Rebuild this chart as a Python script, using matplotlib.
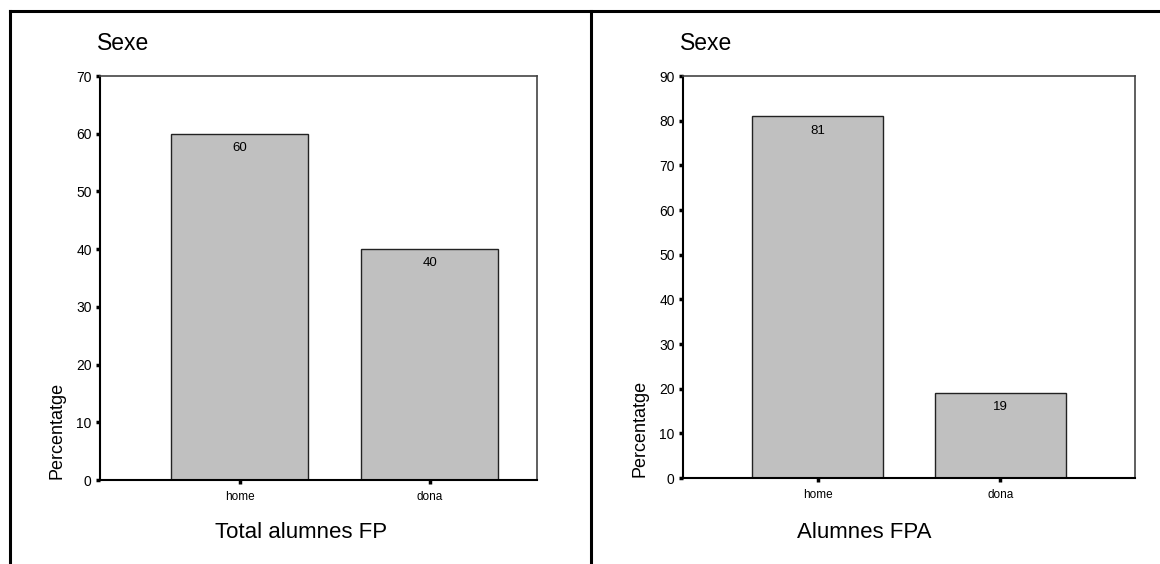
import numpy as np
import matplotlib.pyplot as plt
from matplotlib.lines import Line2D

plt.rcParams['font.family'] = ['Liberation Sans', 'DejaVu Sans']

categories = ['home', 'dona']
fp_total = [60, 40]
fpa = [81, 19]
panel_titles = ['Total alumnes FP', 'Alumnes FPA']
y_max = [70, 90]

W, H = 1160, 564
fig = plt.figure(figsize=(W / 100, H / 100), dpi=100)

# axes boxes in pixels: left, top, right, bottom
boxes = [(100, 76, 537, 480), (683, 76, 1135, 478)]
xlims = [(-0.736, 1.564), (-0.74, 1.74)]
caption_x = [301, 864]
series = [fp_total, fpa]

for i in range(2):
    l, t, r, b = boxes[i]
    ax = fig.add_axes([l / W, 1 - b / H, (r - l) / W, (b - t) / H])
    x = np.arange(len(categories))
    ax.bar(x, series[i], width=0.72, color='#c0c0c0',
           edgecolor='#222222', linewidth=1.0)
    for xi, v in zip(x, series[i]):
        ax.annotate(str(v), (xi, v), xytext=(0, -6), textcoords='offset points',
                    ha='center', va='top', fontsize=9.5)
    ax.set_xlim(*xlims[i])
    ax.set_ylim(0, y_max[i])
    ax.set_yticks(np.arange(0, y_max[i] + 1, 10))
    ax.set_xticks(x)
    ax.set_xticklabels(categories, fontsize=8.5)
    ax.tick_params(axis='y', labelsize=10, length=3, width=2.5, direction='out', pad=3)
    ax.tick_params(axis='x', length=3, width=2.5, direction='out', pad=5)
    for s in ['left', 'bottom']:
        ax.spines[s].set_linewidth(1.5)
        ax.spines[s].set_color('black')
    for s in ['top', 'right']:
        ax.spines[s].set_linewidth(1.2)
        ax.spines[s].set_color('#444444')

    # "Sexe" heading above the plot
    fig.text((l - 3) / W, 1 - 44 / H, 'Sexe', fontsize=16.5, ha='left', va='center')
    # y label
    fig.text((l - 43) / W, 1 - (b - 1) / H, 'Percentatge', fontsize=13,
             rotation=90, ha='center', va='bottom')
    # bottom caption
    fig.text(caption_x[i] / W, 1 - 532 / H, panel_titles[i], fontsize=16,
             ha='center', va='center')

# outer frame lines
fig.add_artist(Line2D([10 / W, 1 / 1], [1 - 11 / H, 1 - 11 / H], color='black', lw=2.2))
fig.add_artist(Line2D([10 / W, 10 / W], [1 - 11 / H, 0], color='black', lw=2.2))
fig.add_artist(Line2D([591 / W, 591 / W], [1 - 11 / H, 0], color='black', lw=2.2))

fig.savefig('out.png', dpi=100)
